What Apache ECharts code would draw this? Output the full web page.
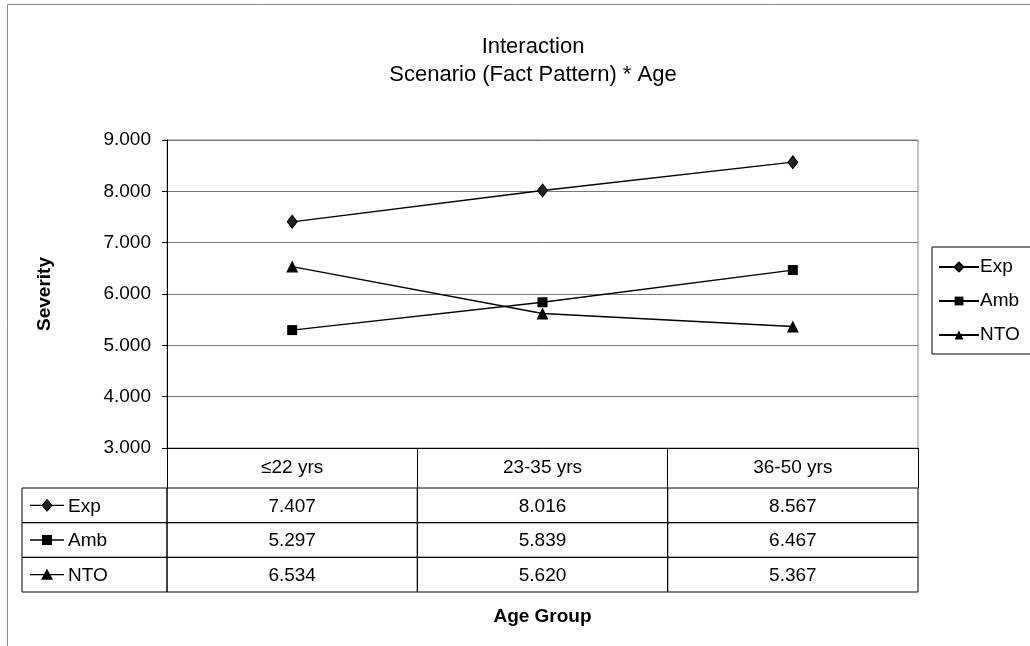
<!DOCTYPE html>
<html>
<head>
<meta charset="utf-8">
<script src="https://cdn.jsdelivr.net/npm/echarts@6/dist/echarts.min.js"></script>
<style>html,body{margin:0;padding:0;background:#fff;}#main{width:1030px;height:646px;}</style>
</head>
<body>
<div id="main"></div>
<script>
const categories = ['≤22 yrs', '23-35 yrs', '36-50 yrs'];
const seriesNames = ['Exp', 'Amb', 'NTO'];
const expValues = [7.407, 8.016, 8.567];
const ambValues = [5.297, 5.839, 6.467];
const ntoValues = [6.534, 5.620, 5.367];
const yMin = 3, yMax = 9, yStep = 1;
const titleText = 'Interaction\nScenario (Fact Pattern) * Age';
const yTitle = 'Severity';
const xTitle = 'Age Group';

const allValues = [expValues, ambValues, ntoValues];
const symbols = ['diamond', 'rect', 'triangle'];
const symbolSizes = [[10, 13], 10, 12];
const FONT = '"Liberation Sans", Arial, sans-serif';
const FS = 19;

const tableData = [];
allValues.forEach((vals, r) => vals.forEach((v, c) => tableData.push([c, r, v])));

function keySymbol(kind, cx, cy) {
  if (kind === 0) return { type: 'polygon', shape: { points: [[cx, cy - 6], [cx + 5, cy], [cx, cy + 6], [cx - 5, cy]] }, style: { fill: '#222', stroke: '#000', lineWidth: 1 } };
  if (kind === 1) return { type: 'rect', shape: { x: cx - 5, y: cy - 5, width: 10, height: 10 }, style: { fill: '#000' } };
  return { type: 'polygon', shape: { points: [[cx, cy - 6], [cx + 6, cy + 5], [cx - 6, cy + 5]] }, style: { fill: '#000' } };
}

const chart = echarts.init(document.getElementById('main'), null, { renderer: 'canvas' });
chart.setOption({
  backgroundColor: '#fff',
  animation: false,
  textStyle: { fontFamily: FONT, color: '#000' },
  title: {
    text: titleText, left: 528, top: 28, textAlign: 'center',
    textStyle: { fontFamily: FONT, fontSize: 22, fontWeight: 'normal', color: '#000', lineHeight: 28 }
  },
  graphic: [{
    type: 'rect', shape: { x: 7.5, y: 4.5, width: 1100, height: 700 },
    style: { fill: 'none', stroke: '#888', lineWidth: 1 }, silent: true
  }],
  legend: {
    orient: 'vertical', left: 932, top: 247,
    data: seriesNames,
    itemWidth: 40, itemHeight: 11, itemGap: 14,
    padding: [10, 30, 9, 6],
    borderColor: '#000', borderWidth: 1,
    textStyle: { fontFamily: FONT, fontSize: FS, lineHeight: 20, color: '#000', padding: [0, 0, 0, -4] }
  },
  grid: [
    { left: 167, right: 112, top: 140, bottom: 198, show: true, borderColor: '#888', borderWidth: 1, backgroundColor: 'transparent' },
    { left: 167, right: 112, top: 488, bottom: 54 }
  ],
  xAxis: [
    {
      gridIndex: 0, type: 'category', data: categories, boundaryGap: true,
      axisLine: { lineStyle: { color: '#000' } },
      axisTick: { show: true, inside: false, length: 40, lineStyle: { color: '#000' } },
      axisLabel: { margin: 10, fontSize: FS, color: '#000', fontFamily: FONT }
    },
    {
      gridIndex: 1, type: 'category', data: categories, boundaryGap: true,
      axisLine: { show: false }, axisTick: { show: false }, axisLabel: { show: false },
      name: xTitle, nameLocation: 'middle', nameGap: 15,
      nameTextStyle: { fontFamily: FONT, fontSize: FS, fontWeight: 'bold', color: '#000' }
    }
  ],
  yAxis: [
    {
      gridIndex: 0, type: 'value', min: yMin, max: yMax, interval: yStep,
      axisLine: { show: true, lineStyle: { color: '#000' } },
      axisTick: { show: true, length: 5, lineStyle: { color: '#000' } },
      axisLabel: { margin: 16, fontSize: FS, color: '#000', fontFamily: FONT, formatter: v => v.toFixed(3) },
      splitLine: { show: true, lineStyle: { color: '#777', width: 1 } },
      name: yTitle, nameLocation: 'middle', nameGap: 113, nameRotate: 90,
      nameTextStyle: { fontFamily: FONT, fontSize: FS, fontWeight: 'bold', color: '#000' }
    },
    {
      gridIndex: 1, type: 'category', data: seriesNames, inverse: true,
      axisLine: { show: false }, axisTick: { show: false }, axisLabel: { show: false }, splitLine: { show: false }
    }
  ],
  series: [
    ...allValues.map((vals, i) => ({
      name: seriesNames[i], type: 'line', xAxisIndex: 0, yAxisIndex: 0, data: vals,
      symbol: symbols[i], symbolSize: symbolSizes[i], showAllSymbol: true,
      lineStyle: { color: '#000', width: 1.3 },
      itemStyle: { color: i === 0 ? '#222' : '#000', borderColor: '#000', borderWidth: i === 0 ? 1 : 0 }
    })),
    {
      type: 'custom', xAxisIndex: 1, yAxisIndex: 1, data: tableData, silent: true,
      renderItem: function (params, api) {
        const c = api.value(0), r = api.value(1), v = api.value(2);
        const p = api.coord([c, r]);
        const sz = api.size([1, 1]);
        const x0 = p[0] - sz[0] / 2, y0 = p[1] - sz[1] / 2;
        const children = [
          { type: 'rect', shape: { x: x0, y: y0, width: sz[0], height: sz[1] }, style: { fill: 'none', stroke: '#000', lineWidth: 1 } },
          { type: 'text', style: { x: p[0], y: p[1] + 1, text: v.toFixed(3), align: 'center', verticalAlign: 'middle', font: FS + 'px ' + FONT, fill: '#000' } }
        ];
        if (c === 0) {
          const kx = x0 - 145;
          children.push(
            { type: 'rect', shape: { x: kx, y: y0, width: 145, height: sz[1] }, style: { fill: 'none', stroke: '#000', lineWidth: 1 } },
            { type: 'line', shape: { x1: kx + 8, y1: p[1], x2: kx + 42, y2: p[1] }, style: { stroke: '#000', lineWidth: 1.3 } },
            keySymbol(r, kx + 25, p[1]),
            { type: 'text', style: { x: kx + 46, y: p[1] + 1, text: seriesNames[r], align: 'left', verticalAlign: 'middle', font: FS + 'px ' + FONT, fill: '#000' } }
          );
        }
        return { type: 'group', children: children };
      }
    }
  ]
});
</script>
</body>
</html>
